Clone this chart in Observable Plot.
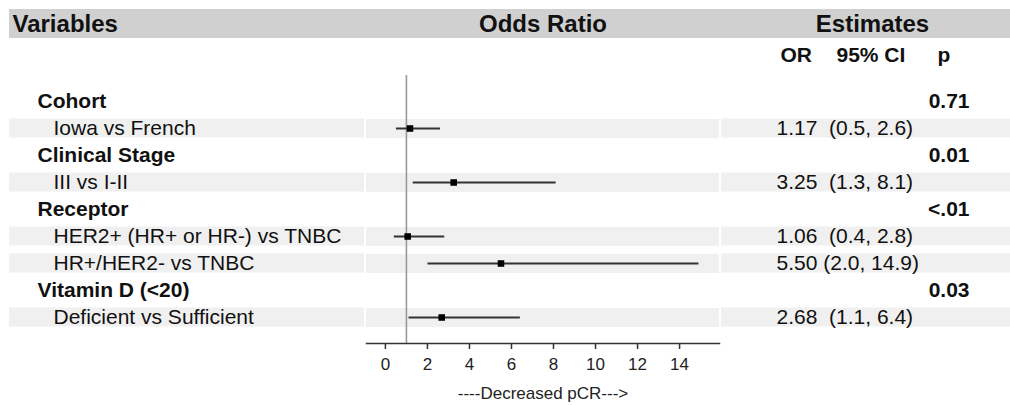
<!DOCTYPE html>
<html>
<head>
<meta charset="utf-8">
<script src="https://cdn.jsdelivr.net/npm/d3@7"></script>
<script src="https://cdn.jsdelivr.net/npm/@observablehq/plot@0.6"></script>
<style>
  body { margin: 0; background: #fff; }
  svg text { white-space: pre; }
</style>
</head>
<body>
<div id="chart"></div>
<script>
// ---- data ----
const rowLabels = ["Cohort", "Iowa vs French", "Clinical Stage", "III vs I-II", "Receptor",
  "HER2+ (HR+ or HR-) vs TNBC", "HR+/HER2- vs TNBC", "Vitamin D (<20)", "Deficient vs Sufficient"];
const isHeading = [true, false, true, false, true, false, false, true, false];
const orValues = [null, 1.17, null, 3.25, null, 1.06, 5.50, null, 2.68];
const ciLow = [null, 0.5, null, 1.3, null, 0.4, 2.0, null, 1.1];
const ciHigh = [null, 2.6, null, 8.1, null, 2.8, 14.9, null, 6.4];
const estText = [null, "1.17  (0.5, 2.6)", null, "3.25  (1.3, 8.1)", null, "1.06  (0.4, 2.8)", "5.50 (2.0, 14.9)", null, "2.68  (1.1, 6.4)"];
const pText = ["0.71", null, "0.01", null, "<.01", null, null, "0.03", null];
const xTicks = [0, 2, 4, 6, 8, 10, 12, 14];

const rows = rowLabels.map((label, i) => ({
  label, heading: isHeading[i], or: orValues[i], lo: ciLow[i], hi: ciHigh[i],
  est: estText[i], p: pText[i]
}));
const subRows = rows.filter(d => !d.heading);
const headRows = rows.filter(d => d.heading);
const font = "Liberation Sans, Arial, sans-serif";
const rowFont = 21;
const headFont = 24;

const chart = Plot.plot({
  width: 1010,
  height: 405,
  marginLeft: 366,
  marginRight: 291,
  marginTop: 75,
  marginBottom: 62,
  style: { fontFamily: font, fontSize: "17px", background: "transparent" },
  x: { domain: [-0.9, 15.9] },
  y: { type: "point", domain: rowLabels, padding: 0.945, axis: null },
  marks: [
    // stripes inside the plot frame
    Plot.ruleY(subRows, { y: "label", stroke: "#f0f0f0", strokeWidth: 19 }),
    // reference line at OR = 1
    Plot.ruleX([1], { stroke: "#999", strokeWidth: 1.6 }),
    // CI lines
    Plot.link(subRows, { x1: "lo", x2: "hi", y1: "label", y2: "label", stroke: "#333", strokeWidth: 1.8 }),
    // point estimates
    Plot.dot(subRows, { x: "or", y: "label", symbol: "square", r: 3.7, fill: "#000", stroke: "none" }),
    // x axis
    Plot.axisX({ ticks: xTicks, tickSize: 6, tickPadding: 8, fontSize: 17, stroke: "#333", strokeWidth: 1.5, color: "#222",
      label: "----Decreased pCR--->", labelAnchor: "center", labelArrow: "none", labelOffset: 55 }),
    Plot.frame({ anchor: "bottom", stroke: "#333", strokeWidth: 1.5 }),
    // row labels
    Plot.text(headRows, { y: "label", text: "label", frameAnchor: "left", dx: -329, textAnchor: "start",
      fontSize: rowFont, fontWeight: "bold", fill: "#111" }),
    Plot.text(subRows, { y: "label", text: "label", frameAnchor: "left", dx: -313, textAnchor: "start",
      fontSize: rowFont, fill: "#111" }),
    // estimates
    Plot.text(subRows, { y: "label", text: "est", frameAnchor: "right", dx: 57, textAnchor: "start",
      fontSize: rowFont, fill: "#111" }),
    Plot.text(headRows, { y: "label", text: "p", frameAnchor: "right", dx: 250, textAnchor: "end",
      fontSize: rowFont, fontWeight: "bold", fill: "#111" }),
    // column headers
    Plot.text(["Variables"], { frameAnchor: "top-left", dx: -354, dy: -51, textAnchor: "start", lineAnchor: "middle",
      fontSize: headFont, fontWeight: "bold", fill: "#111" }),
    Plot.text(["Odds Ratio"], { frameAnchor: "top", dy: -51, textAnchor: "middle", lineAnchor: "middle",
      fontSize: headFont, fontWeight: "bold", fill: "#111" }),
    Plot.text(["Estimates"], { frameAnchor: "top-right", dx: 153, dy: -51, textAnchor: "middle", lineAnchor: "middle",
      fontSize: headFont, fontWeight: "bold", fill: "#111" }),
    Plot.text(["OR"], { frameAnchor: "top-right", dx: 61, dy: -20, textAnchor: "start", lineAnchor: "middle",
      fontSize: rowFont, fontWeight: "bold", fill: "#111" }),
    Plot.text(["95% CI"], { frameAnchor: "top-right", dx: 117, dy: -20, textAnchor: "start", lineAnchor: "middle",
      fontSize: rowFont, fontWeight: "bold", fill: "#111" }),
    Plot.text(["p"], { frameAnchor: "top-right", dx: 218, dy: -20, textAnchor: "start", lineAnchor: "middle",
      fontSize: rowFont, fontWeight: "bold", fill: "#111" })
  ]
});

// background decorations (header bar and outer stripe segments), using the chart's y scale
const svg = d3.select(chart);
const yScale = chart.scale("y");
const bg = svg.insert("g", ":first-child");
bg.append("rect").attr("x", 9).attr("y", 9).attr("width", 1001).attr("height", 29).attr("fill", "#d0d0d0");
subRows.forEach(d => {
  const yc = yScale.apply(d.label);
  bg.append("rect").attr("x", 9).attr("y", yc - 9.5).attr("width", 355).attr("height", 19).attr("fill", "#f0f0f0");
  bg.append("rect").attr("x", 721).attr("y", yc - 9.5).attr("width", 289).attr("height", 19).attr("fill", "#f0f0f0");
});

document.getElementById("chart").appendChild(chart);
</script>
</body>
</html>
